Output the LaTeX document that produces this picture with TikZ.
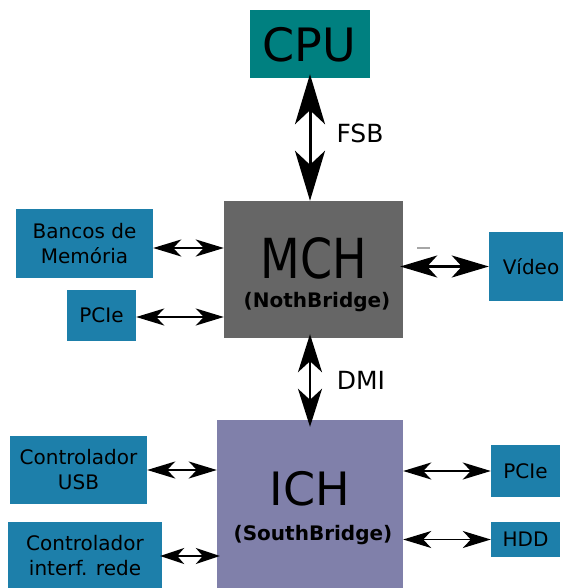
\documentclass[tikz,border=0pt]{standalone}
\usepackage{fontspec}
\setmainfont{DejaVu Sans}
\usetikzlibrary{arrows.meta}
\definecolor{boxblue}{RGB}{29,127,170}
\definecolor{cputeal}{RGB}{0,128,128}
\definecolor{mchgray}{RGB}{102,102,102}
\definecolor{ichpurple}{RGB}{128,128,170}
\tikzset{
  box/.style={draw=none, inner sep=0pt, align=center, text=black},
  dev/.style={box, fill=boxblue, font=\fontsize{20}{25}\selectfont},
  bigtext/.style={inner sep=0pt, anchor=base, font=\fontsize{46}{46}\selectfont},
  subtext/.style={inner sep=0pt, anchor=base, font=\fontsize{20}{20}\selectfont\bfseries},
  bustext/.style={inner sep=0pt, font=\fontsize{25}{25}\selectfont},
  bigtip/.style={{Stealth[length=50pt, width=30pt, inset=14pt]}-{Stealth[length=50pt, width=30pt, inset=14pt]}, line width=3pt},
  dmitip/.style={{Stealth[length=38pt, width=24pt, inset=11pt]}-{Stealth[length=38pt, width=24pt, inset=11pt]}, line width=2.5pt},
  vidtip/.style={{Stealth[length=37pt, width=22pt, inset=10pt]}-{Stealth[length=37pt, width=22pt, inset=10pt]}, line width=2.5pt},
  sidetip/.style={{Stealth[length=28pt, width=17pt, inset=8pt]}-{Stealth[length=28pt, width=17pt, inset=8pt]}, line width=2pt},
  thintip/.style={{Stealth[length=24pt, width=16pt, inset=7pt]}-{Stealth[length=24pt, width=16pt, inset=7pt]}, line width=1.5pt},
}
\begin{document}
\begin{tikzpicture}[x=1pt, y=-1pt]
\useasboundingbox (0,0) rectangle (563,588);
\clip (0,0) rectangle (563,588);

% main chips
\node[box, fill=cputeal, minimum width=120, minimum height=68] (cpu) at (310,44) {};
\node[box, fill=mchgray, minimum width=179, minimum height=137] (mch) at (313.5,269.5) {};
\node[box, fill=ichpurple, minimum width=186, minimum height=170] (ich) at (310,505) {};

\node[bigtext] (cputxt) at (309,62) {CPU};
\node[bigtext] (mchtxt) at (313.5,278) {\scalebox{1}[1.2]{MCH}};
\node[subtext] (mchsub) at (317,307) {(NothBridge)};
\node[bigtext] (ichtxt) at (310,505) {ICH};
\node[subtext] (ichsub) at (313,540) {(SouthBridge)};

% peripheral blocks
\node[dev, minimum width=137, minimum height=69] (mem) at (84.5,243.5) {Bancos de\\Memória};
\node[dev, minimum width=69, minimum height=51] (pcieA) at (101.5,315.5) {PCIe};
\node[dev, minimum width=74, minimum height=69] (video) at (526,266.5) {\hspace{10pt}Vídeo};
\node[dev, minimum width=137, minimum height=68] (usb) at (78.5,470) {Controlador\\USB};
\node[dev, minimum width=154, minimum height=68] (rede) at (85,556) {Controlador\\interf. rede};
\node[dev, minimum width=69, minimum height=52] (pcieB) at (525.5,471) {PCIe};
\node[dev, minimum width=69, minimum height=35] (hdd) at (525.5,539.5) {HDD};

% buses
\draw[bigtip] ([yshift=4pt]cpu.south) -- (cpu.south |- mch.north);
\node[bustext] (fsb) at (360,133) {FSB};
\draw[dmitip] ([yshift=4pt]ich.north |- mch.south) -- ([yshift=-7pt]ich.north);
\node[bustext] (dmi) at (361,380) {DMI};

\coordinate (memport) at ([yshift=-4.5pt]mem.east);
\draw[sidetip] (memport) -- (memport -| mch.west);
\coordinate (pcieAport) at ([yshift=-1.5pt]pcieA.east);
\draw[sidetip] (pcieAport) -- (pcieAport -| mch.west);
\draw[vidtip] ([xshift=-3pt]mch.east |- video.west) -- (video.west);
\node[fill=gray!70, minimum width=13, minimum height=1.5, inner sep=0pt] (mark) at (423,248) {};

\draw[sidetip] (usb.east) -- (usb.east -| ich.west);
\draw[thintip] ([xshift=-2pt]rede.east) -- ([xshift=3pt]rede.east -| ich.west);
\draw[sidetip] (ich.east |- pcieB.west) -- (pcieB.west);
\draw[sidetip, line width=1.5pt] (ich.east |- hdd.west) -- (hdd.west);
\end{tikzpicture}
\end{document}
